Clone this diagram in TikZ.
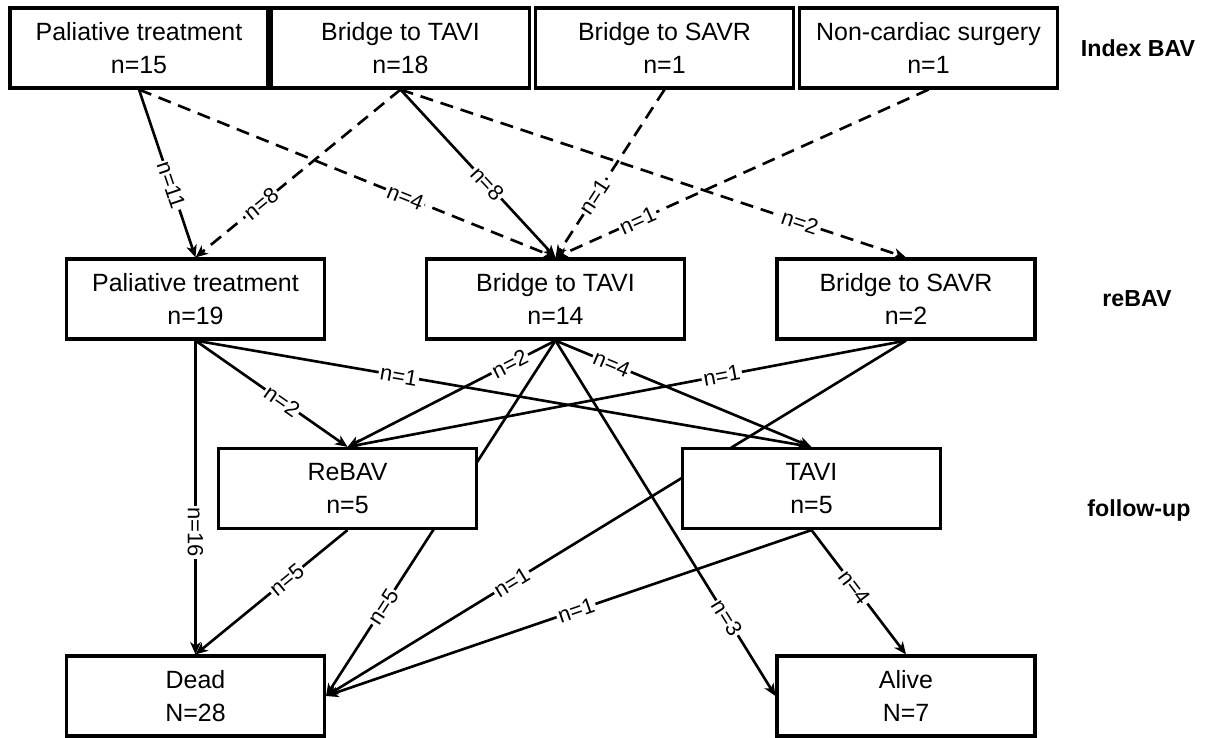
\documentclass[tikz,border=0pt]{standalone}
\usepackage{fontspec}
\setmainfont{Liberation Sans}
\usetikzlibrary{arrows.meta,positioning,backgrounds}

\begin{document}
\begin{tikzpicture}[x=0.02cm,y=-0.02cm,
  box/.style={rectangle,draw,line width=1.8pt,fill=white,minimum width=5.16cm,minimum height=1.6cm,align=center,font=\fontsize{14.2}{18.7}\selectfont},
  flow/.style={-{Stealth[length=7pt,width=6pt,inset=2pt]},line width=1.5pt},
  alt/.style={flow,dash pattern=on 7.5pt off 4.5pt},
  lbl/.style={sloped,fill=white,inner sep=1pt,font=\fontsize{12.5}{14}\selectfont},
  stage/.style={font=\fontsize{13.2}{15}\selectfont\bfseries}]
\useasboundingbox (0,0) rectangle (1210,737);

% Index BAV
\node[box] (pal15) at (139,48) {Paliative treatment\\n=15};
\node[box] (tav18) at (400.5,48) {Bridge to TAVI\\n=18};
\node[box] (sav1) at (664.5,48) {Bridge to SAVR\\n=1};
\node[box] (ncs1) at (928.5,48) {Non-cardiac surgery\\n=1};
\node[stage] (lvl1) at (1138,48) {Index BAV};

% reBAV
\node[box] (pal19) at (195.5,299) {Paliative treatment\\n=19};
\node[box] (tav14) at (555.5,299) {Bridge to TAVI\\n=14};
\node[box] (sav2) at (906,299) {Bridge to SAVR\\n=2};
\node[stage] (lvl2) at (1137,299) {reBAV};

% follow-up
\node[box] (rebav) at (347.5,488.5) {ReBAV\\n=5};
\node[box] (tavi) at (811.5,488.5) {TAVI\\n=5};
\node[stage] (lvl3) at (1139,510) {follow-up};

\node[box] (dead) at (195.5,696) {Dead\\N=28};
\node[box] (alive) at (906,696) {Alive\\N=7};

\begin{scope}[on background layer]
% index -> reBAV
\draw[flow] (pal15.south) -- node[lbl,pos=0.57]{n=11} (pal19.north);
\draw[alt] (pal15.south) -- node[lbl,pos=0.64]{n=4} (tav14.north);
\draw[alt] (tav18.south) -- node[lbl,pos=0.68]{n=8} (pal19.north);
\draw[flow] (tav18.south) -- node[lbl,pos=0.56]{n=8} (tav14.north);
\draw[alt] (tav18.south) -- node[lbl,pos=0.79]{n=2} (sav2.north);
\draw[alt] (sav1.south) -- node[lbl,pos=0.64]{n=1} (tav14.north);
\draw[alt] (ncs1.south) -- node[lbl,pos=0.78]{n=1} (tav14.north);

% reBAV -> follow-up
\draw[flow] (pal19.south) -- node[lbl,pos=0.61]{n=16} (dead.north);
\draw[flow] (pal19.south) -- node[lbl,pos=0.57]{n=2} (rebav.north);
\draw[flow] (pal19.south) -- node[lbl,pos=0.33]{n=1} (tavi.north);
\draw[flow] (tav14.south) -- node[lbl,pos=0.22]{n=2} (rebav.north);
\draw[flow] (tav14.south) -- node[lbl,pos=0.75]{n=5} (dead.east);
\draw[flow] (tav14.south) -- node[lbl,pos=0.22]{n=4} (tavi.north);
\draw[flow] (tav14.south) -- node[lbl,pos=0.78]{n=3} (alive.west);
\draw[flow] (sav2.south) -- node[lbl,pos=0.33]{n=1} (rebav.north);
\draw[flow] (sav2.south) -- node[lbl,pos=0.68]{n=1} (dead.east);

% follow-up -> outcome
\draw[flow] (rebav.south) -- node[lbl,pos=0.4]{n=5} (dead.north);
\draw[flow] (tavi.south) -- node[lbl,pos=0.485]{n=1} (dead.east);
\draw[flow] (tavi.south) -- node[lbl,pos=0.46]{n=4} (alive.north);
\end{scope}
\end{tikzpicture}
\end{document}
